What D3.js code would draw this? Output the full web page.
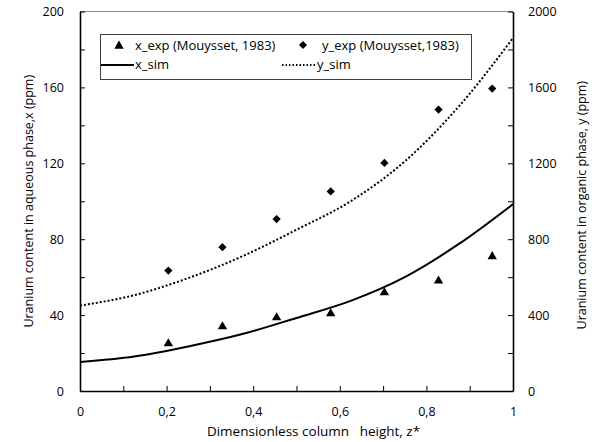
<!DOCTYPE html>
<html>
<head>
<meta charset="utf-8">
<script src="https://cdn.jsdelivr.net/npm/d3@7"></script>
<style>
  body { margin: 0; background: #fff; }
  svg text { font-family: "Open Sans", "DejaVu Sans", sans-serif; fill: #000; }
</style>
</head>
<body>
<script>
// experimental points (Mouysset, 1983)
const zExp = [0.204, 0.329, 0.454, 0.579, 0.703, 0.828, 0.952]
const xExp = [25.5, 34.5, 39.2, 41.3, 52.4, 58.6, 71.4]
const yExp = [635, 758, 906, 1052, 1202, 1483, 1594]

// simulated profiles
const zSim = [0, 0.125, 0.25, 0.375, 0.5, 0.625, 0.75, 0.875, 1]
const xSim = [15.3, 18.2, 23.5, 30, 38.5, 47.5, 60, 77.5, 98.5]
const ySim = [450, 505, 595, 710, 850, 1000, 1210, 1500, 1860]

// axis ticks
const zTicks = [0, 0.1, 0.2, 0.3, 0.4, 0.5, 0.6, 0.7, 0.8, 0.9, 1]
const zLabels = [0, 0.2, 0.4, 0.6, 0.8, 1]
const xTicks = [0, 20, 40, 60, 80, 100, 120, 140, 160, 180, 200]
const xLabels = [0, 40, 80, 120, 160, 200]
const yTicks = [0, 200, 400, 600, 800, 1000, 1200, 1400, 1600, 1800, 2000]
const yLabels = [0, 400, 800, 1200, 1600, 2000]

const width = 592
const height = 442
const plot = { left: 80, right: 513, top: 11.5, bottom: 391 }

const svg = d3.select('body').append('svg')
  .attr('width', width)
  .attr('height', height)

const zScale = d3.scaleLinear().domain([0, 1]).range([plot.left, plot.right])
const xScale = d3.scaleLinear().domain([0, 200]).range([plot.bottom, plot.top])
const yScale = d3.scaleLinear().domain([0, 2000]).range([plot.bottom, plot.top])

const comma = d => String(d).replace('.', ',')
const fmt = labels => d => labels.some(l => Math.abs(l - d) < 1e-9) ? comma(d) : ''

// top border of the plot area
svg.append('line')
  .attr('x1', plot.left).attr('x2', plot.right)
  .attr('y1', plot.top).attr('y2', plot.top)
  .attr('stroke', '#8c8c8c').attr('stroke-width', 1)

// axes
const bottomAxis = d3.axisBottom(zScale)
  .tickValues(zTicks).tickFormat(fmt(zLabels))
  .tickSizeInner(-5).tickSizeOuter(0).tickPadding(16)
const leftAxis = d3.axisLeft(xScale)
  .tickValues(xTicks).tickFormat(fmt(xLabels))
  .tickSizeInner(-5).tickSizeOuter(0).tickPadding(16)
const rightAxis = d3.axisRight(yScale)
  .tickValues(yTicks).tickFormat(fmt(yLabels))
  .tickSizeInner(-5).tickSizeOuter(0).tickPadding(15)

const styleAxis = g => {
  g.select('.domain').attr('stroke', '#000').attr('stroke-width', 1.6)
  g.selectAll('.tick line').attr('stroke', '#000').attr('stroke-width', 1)
  g.selectAll('.tick text').attr('font-size', 12.5).attr('font-family', '"Open Sans", sans-serif')
}

svg.append('g').attr('transform', `translate(0,${plot.bottom})`).call(bottomAxis).call(styleAxis)
svg.append('g').attr('transform', `translate(${plot.left},0)`).call(leftAxis).call(styleAxis)
svg.append('g').attr('transform', `translate(${plot.right},0)`).call(rightAxis).call(styleAxis)

// axis titles
svg.append('text')
  .attr('x', (plot.left + plot.right) / 2 + 17).attr('y', 436)
  .attr('text-anchor', 'middle').attr('font-size', 13.5)
  .style('white-space', 'pre')
  .text('Dimensionless column   height, z*')

svg.append('text')
  .attr('transform', `translate(33,${(plot.top + plot.bottom) / 2}) rotate(-90)`)
  .attr('text-anchor', 'middle').attr('font-size', 12.5)
  .text('Uranium content in aqueous phase,x (ppm)')

svg.append('text')
  .attr('transform', `translate(586,${(plot.top + plot.bottom) / 2 + 4}) rotate(-90)`)
  .attr('text-anchor', 'middle').attr('font-size', 12.5)
  .text('Uranium content in organic phase, y (ppm)')

// simulated curves
const simX = zSim.map((z, i) => [z, xSim[i]])
const simY = zSim.map((z, i) => [z, ySim[i]])

svg.append('path')
  .datum(simX)
  .attr('fill', 'none').attr('stroke', '#000').attr('stroke-width', 2)
  .attr('d', d3.line().x(d => zScale(d[0])).y(d => xScale(d[1])).curve(d3.curveMonotoneX))

svg.append('path')
  .datum(simY)
  .attr('fill', 'none').attr('stroke', '#000').attr('stroke-width', 2)
  .attr('stroke-dasharray', '2,2')
  .attr('d', d3.line().x(d => zScale(d[0])).y(d => yScale(d[1])).curve(d3.curveMonotoneX))

// experimental markers
const tri = d3.symbol().type(d3.symbolTriangle).size(38)
const dia = d3.symbol().type(d3.symbolSquare).size(34)

svg.append('g').selectAll('path')
  .data(zExp.map((z, i) => [z, xExp[i]]))
  .join('path')
  .attr('d', tri)
  .attr('transform', d => `translate(${zScale(d[0])},${xScale(d[1]) + 1})`)
  .attr('fill', '#000')

svg.append('g').selectAll('path')
  .data(zExp.map((z, i) => [z, yExp[i]]))
  .join('path')
  .attr('d', dia)
  .attr('transform', d => `translate(${zScale(d[0])},${yScale(d[1])}) rotate(45)`)
  .attr('fill', '#000')

// legend
const legend = svg.append('g')
legend.append('rect')
  .attr('x', 100.5).attr('y', 34.5).attr('width', 371).attr('height', 45)
  .attr('fill', '#fff').attr('stroke', '#404040').attr('stroke-width', 1)

legend.append('path').attr('d', tri).attr('transform', 'translate(119,46)').attr('fill', '#000')
legend.append('text').attr('x', 135).attr('y', 50).attr('font-size', 13).text('x_exp (Mouysset, 1983)')

legend.append('path').attr('d', dia).attr('transform', 'translate(303,45) rotate(45)').attr('fill', '#000')
legend.append('text').attr('x', 322).attr('y', 50).attr('font-size', 13).text('y_exp (Mouysset,1983)')

legend.append('line').attr('x1', 101).attr('x2', 134).attr('y1', 65).attr('y2', 65)
  .attr('stroke', '#000').attr('stroke-width', 2)
legend.append('text').attr('x', 135).attr('y', 69).attr('font-size', 13).text('x_sim')

legend.append('line').attr('x1', 282).attr('x2', 315).attr('y1', 65).attr('y2', 65)
  .attr('stroke', '#000').attr('stroke-width', 2).attr('stroke-dasharray', '1.5,2')
legend.append('text').attr('x', 317).attr('y', 69).attr('font-size', 13).text('y_sim')
</script>
</body>
</html>
